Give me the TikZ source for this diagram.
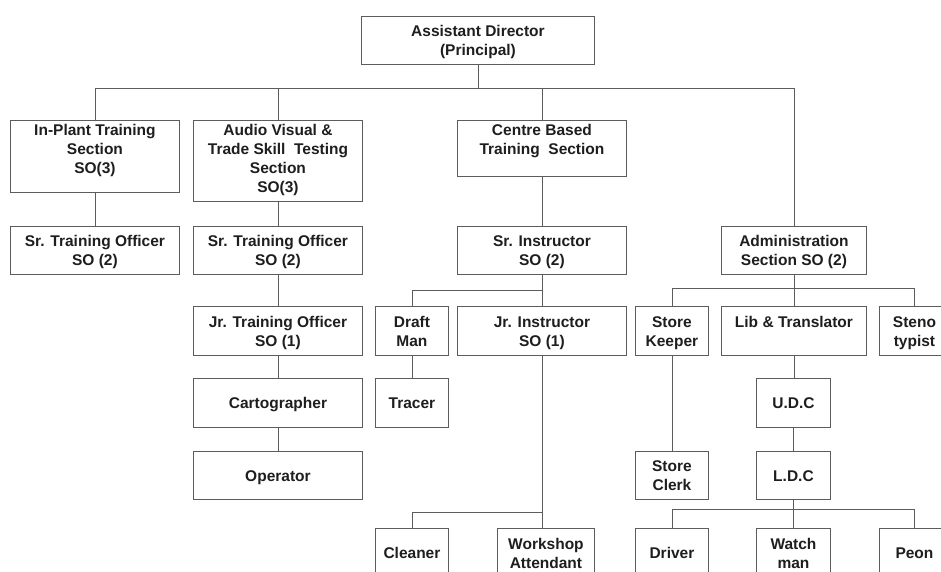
\documentclass[tikz,border=0pt]{standalone}
\usepackage{fontspec}
\setmainfont{Liberation Sans}
\definecolor{linegray}{HTML}{5C5C5C}
\definecolor{inkdark}{HTML}{1E1E1E}
% one line of box text: fixed height and depth so every line sits 19pt apart
\newcommand\ustrut{\rule[-3.5pt]{0pt}{19pt}}
% box content: width, height, vertical position (c or t), lines
\newcommand\boxtext[4]{\parbox[c][#2][#3]{#1}{\centering\baselineskip=19pt\lineskip=0pt\ustrut #4\ustrut\par}}
% \unitbox{name}{x}{y}{width}{height}{c|t}{text}
\newcommand\unitbox[7]{\node[unit] (#1) at (#2,#3) {\boxtext{#4pt}{#5pt}{#6}{#7}};}
\tikzset{
  unit/.style={draw=linegray, line width=0.9pt, inner sep=0pt, anchor=north west,
    text=inkdark, font=\fontsize{15.5}{19}\selectfont\bfseries},
  link/.style={draw=linegray, line width=0.9pt}
}
\begin{document}
\begin{tikzpicture}[x=1pt, y=-1pt]
\clip (0,0) rectangle (941,571);
\fill[white] (0,0) rectangle (941,571);

% ---- boxes ----
\unitbox{ad}{361}{16}{233}{48}{c}{Assistant Director\\(Principal)}

\unitbox{ipt}{10}{120}{169}{72}{t}{In-Plant Training\\Section\\SO(3)}
\unitbox{av}{193}{120}{169}{81}{t}{Audio Visual \&\\Trade Skill\ \ Testing\\Section\\SO(3)}
\unitbox{cbt}{457}{120}{169}{56}{t}{Centre Based\\Training\ \ Section}

\unitbox{sto1}{10}{226}{169}{48}{c}{Sr. Training Officer\\SO (2)}
\unitbox{sto2}{193}{226}{169}{48}{c}{Sr. Training Officer\\SO (2)}
\unitbox{sri}{457}{226}{169}{48}{c}{Sr. Instructor\\SO (2)}
\unitbox{adm}{721}{226}{145}{48}{c}{Administration\\Section SO (2)}

\unitbox{jto}{193}{306}{169}{49}{c}{Jr. Training Officer\\SO (1)}
\unitbox{dm}{375}{306}{73}{49}{c}{Draft\\Man}
\unitbox{jri}{457}{306}{169}{49}{c}{Jr. Instructor\\SO (1)}
\unitbox{sk}{635}{306}{73}{49}{c}{Store\\Keeper}
\unitbox{lib}{721}{306}{145}{49}{c}{Lib \& Translator\\\mbox{}}
\unitbox{st}{879}{306}{70}{49}{c}{Steno\\typist}

\unitbox{carto}{193}{378}{169}{49}{c}{Cartographer}
\unitbox{tr}{375}{378}{73}{49}{c}{Tracer}
\unitbox{udc}{756}{378}{74}{49}{c}{U.D.C}

\unitbox{op}{193}{451}{169}{48}{c}{Operator}
\unitbox{sc}{635}{451}{73}{48}{c}{Store\\Clerk}
\unitbox{ldc}{756}{451}{74}{48}{c}{L.D.C}

\unitbox{cl}{375}{528}{73}{49}{c}{Cleaner}
\unitbox{wa}{497}{528}{97}{49}{c}{Workshop\\Attendant}
\unitbox{dr}{635}{528}{73}{49}{c}{Driver}
\unitbox{wm}{756}{528}{74}{49}{c}{Watch\\man}
\unitbox{pe}{879}{528}{70}{49}{c}{Peon}

% ---- horizontal bus levels ----
\coordinate (busA) at (0,88);
\coordinate (busB) at (0,290);
\coordinate (busC) at (0,288);
\coordinate (busD) at (0,512);
\coordinate (busE) at (0,509);

% ---- connectors ----
% director to the four sections
\draw[link] (ad.south) -- (ad.south |- busA);
\draw[link] (ipt.north) |- (busA -| adm.north) -- (adm.north);
\draw[link] (av.north) -- (av.north |- busA);
\draw[link] (cbt.north) -- (cbt.north |- busA);

% in-plant and audio visual chains
\draw[link] (ipt.south) -- (ipt.south |- sto1.north);
\draw[link] (av.south) -- (av.south |- sto2.north);
\draw[link] (sto2.south) -- (sto2.south |- jto.north);
\draw[link] (jto.south) -- (jto.south |- carto.north);
\draw[link] (carto.south) -- (carto.south |- op.north);

% centre based training chain
\draw[link] (cbt.south) -- (cbt.south |- sri.north);
\draw[link] (sri.south) -- (sri.south |- jri.north);
\draw[link] (dm.north) |- (busB -| sri.south);
\draw[link] (dm.south) -- (dm.south |- tr.north);
\draw[link] (jri.south) -- (jri.south |- wa.north);
\draw[link] (cl.north) |- (busD -| jri.south);

% administration chain
\draw[link] (adm.south) -- (adm.south |- lib.north);
\draw[link] (sk.north) |- (busC -| st.north) -- (st.north);
\draw[link] (sk.south) -- (sk.south |- sc.north);
\draw[link] (lib.south) -- (lib.south |- udc.north);
\draw[link] (udc.south) -- (udc.south |- ldc.north);
\draw[link] (ldc.south) -- (ldc.south |- busE);
\draw[link] (dr.north) |- (busE -| pe.north) -- (pe.north);
\draw[link] (wm.north) -- (wm.north |- busE);
\end{tikzpicture}
\end{document}
